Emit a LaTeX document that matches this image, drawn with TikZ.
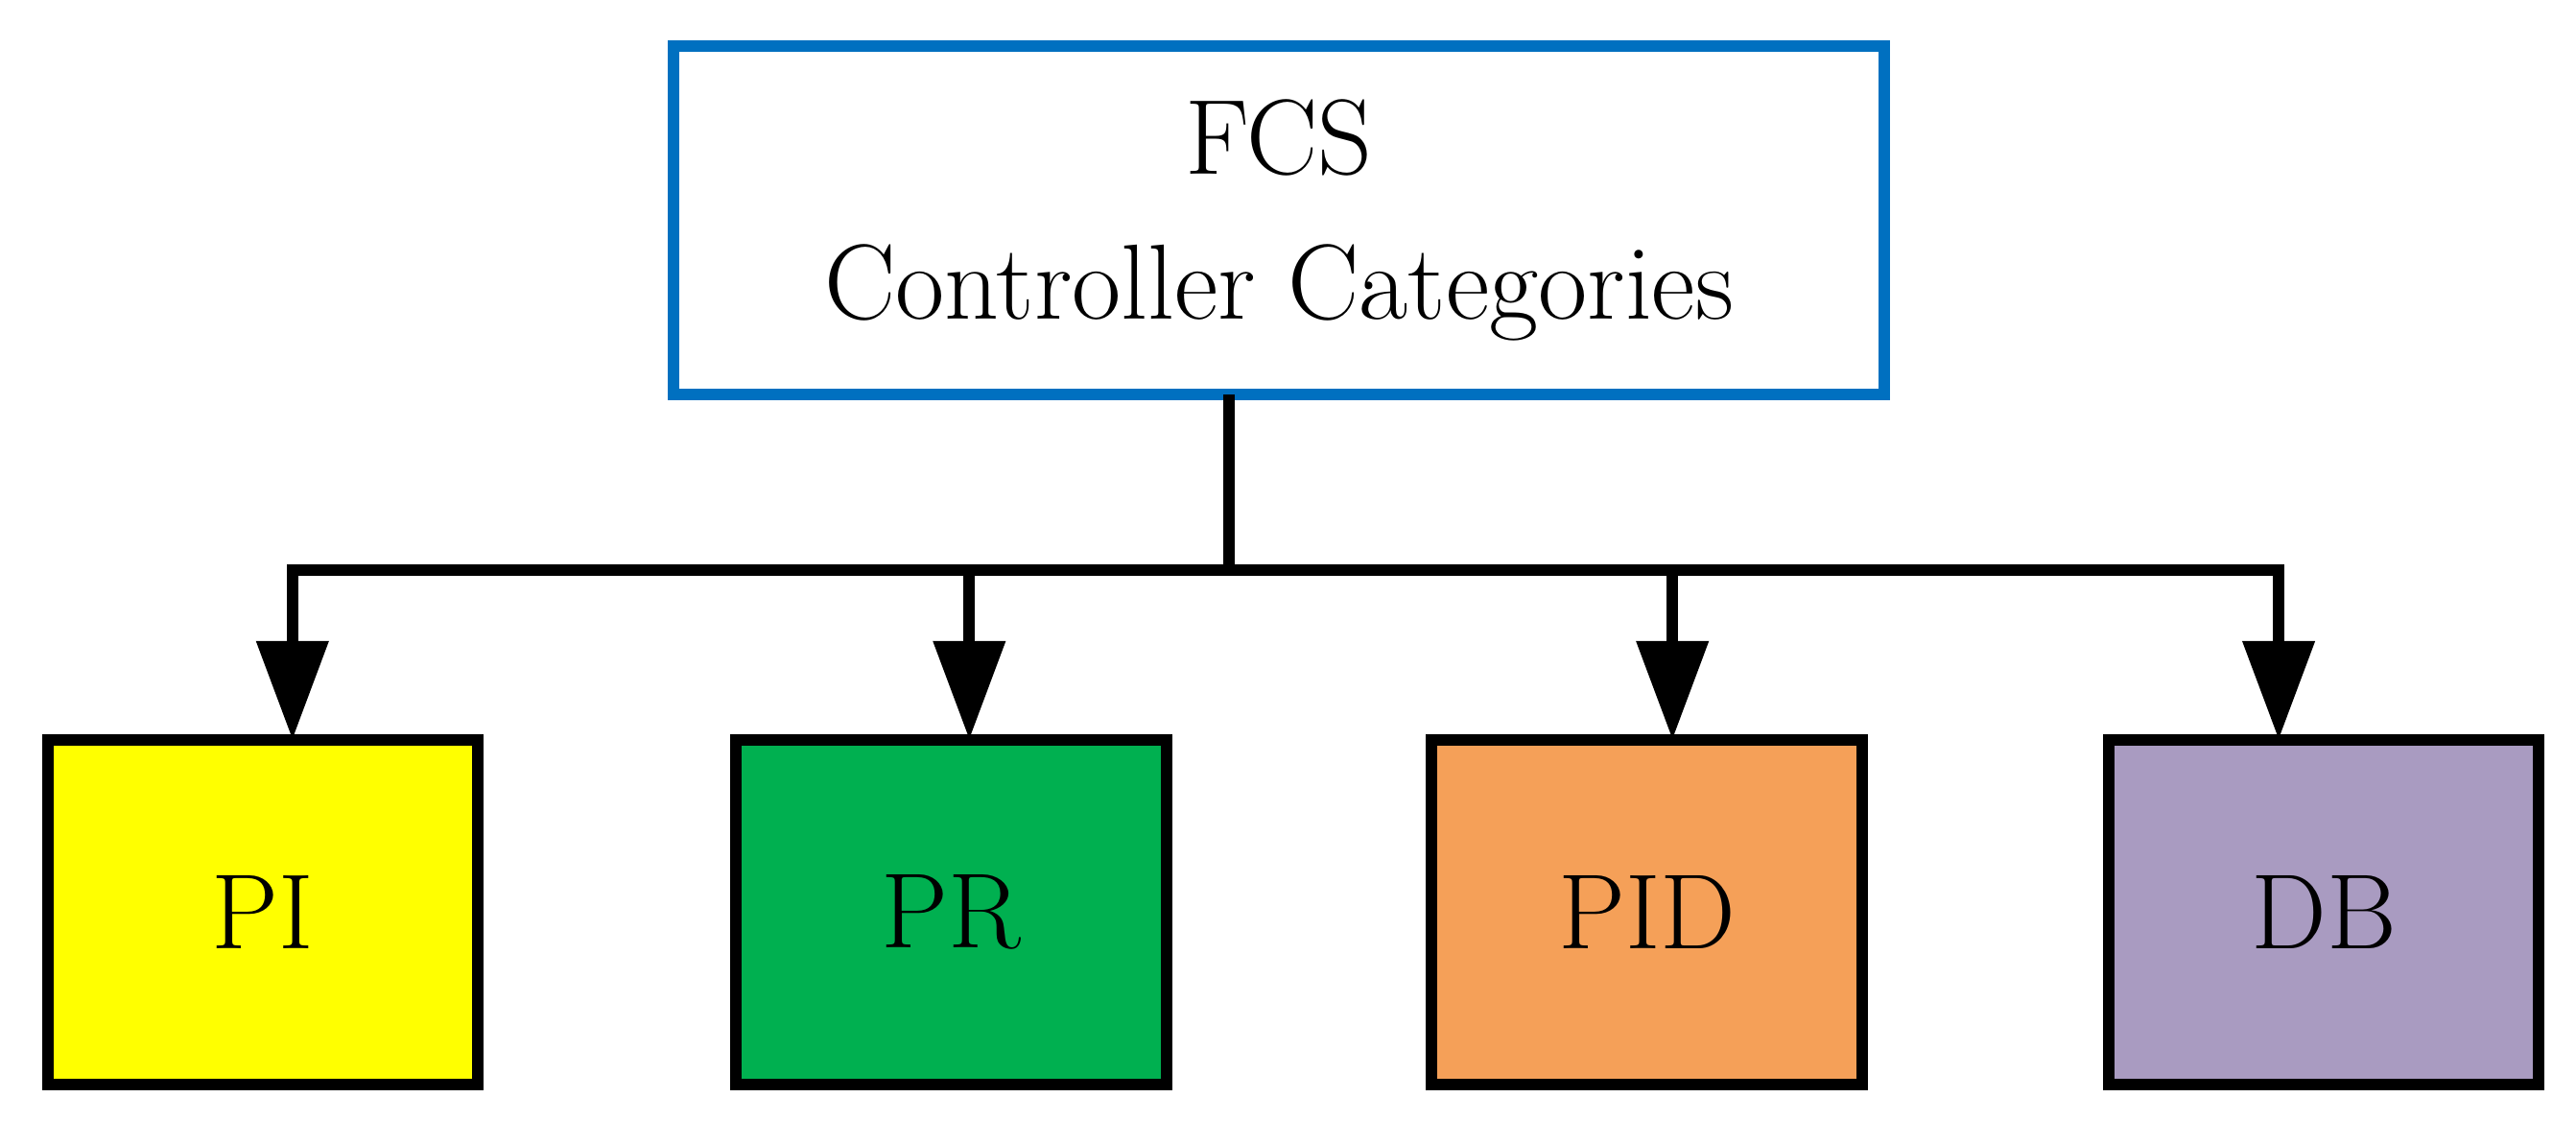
\documentclass[tikz,border=0pt]{standalone}
\usepackage{fontspec}
\usetikzlibrary{arrows.meta}
\definecolor{bl}{RGB}{0,112,192}
\definecolor{yl}{RGB}{255,255,0}
\definecolor{gr}{RGB}{0,176,80}
\definecolor{or}{RGB}{245,160,88}
\definecolor{pu}{RGB}{169,155,193}
\begin{document}
\begin{tikzpicture}[x=0.02cm,y=-0.02cm,
  box/.style={draw=black,line width=4pt,minimum width=5.24cm,minimum height=4.2cm,inner sep=0pt,font=\fontsize{37}{50}\selectfont},
  con/.style={line width=4pt,-{Triangle[length=1.2cm,width=0.85cm]}}]
\useasboundingbox (0,0) rectangle (1568,682);
\node[draw=bl,line width=4pt,minimum width=14.74cm,minimum height=4.24cm,align=center,font=\fontsize{37}{50}\selectfont] (top) at (778.5,134) {FCS\\Controller Categories};
\node[box,fill=yl] (pi) at (160,555) {PI};
\node[box,fill=gr] (pr) at (579,555) {PR};
\node[box,fill=or] (pid) at (1002.5,555) {PID};
\node[box,fill=pu] (db) at (1414.5,555) {DB};
\coordinate (j) at (748,347);
\draw[line width=4pt] (748,240) -- (j);
\draw[con] (j) -| (178,450);
\draw[con] (j) -| (590,450);
\draw[con] (j) -| (1018,450);
\draw[con] (j) -| (1387,450);
\end{tikzpicture}
\end{document}
